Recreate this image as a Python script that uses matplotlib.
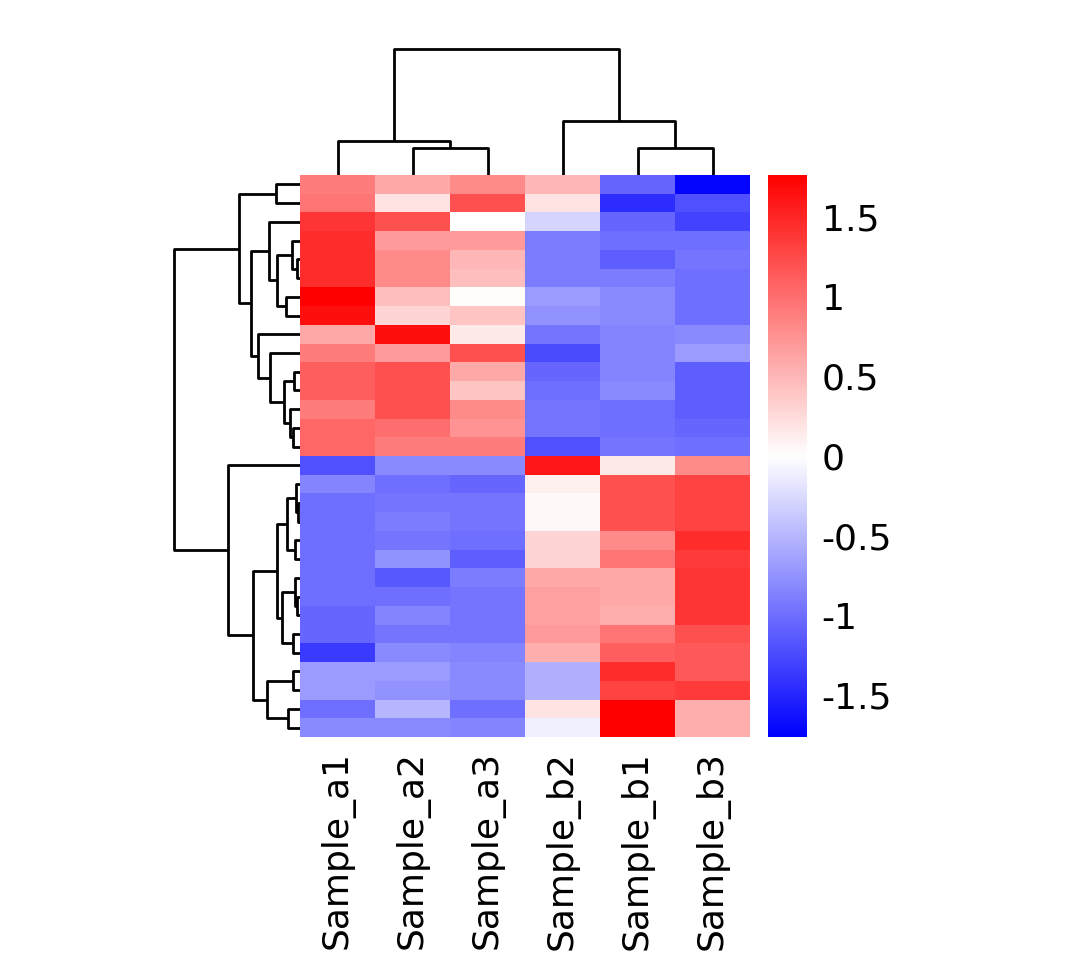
import numpy as np
import matplotlib
matplotlib.use("Agg")
import matplotlib.pyplot as plt
from matplotlib.collections import LineCollection

plt.rcParams.update({
    "font.family": "DejaVu Sans",
    "axes.unicode_minus": False,
})

# ── Datos (z-score por gen, orden original de las muestras) ─────────────────
samples = ["Sample_a1", "Sample_a2", "Sample_a3", "Sample_b1", "Sample_b2", "Sample_b3"]

sample_a1 = [0.90, 0.95, 1.40, 1.45, 1.45, 1.45, 1.75, 1.65, 0.60, 0.90,
             1.10, 1.10, 0.90, 1.05, 1.05, -1.20, -0.85, -1.00, -1.00, -1.00,
             -1.00, -1.00, -1.00, -1.05, -1.05, -1.35, -0.70, -0.70, -1.00, -0.80]
sample_a2 = [0.60, 0.20, 1.20, 0.70, 0.80, 0.80, 0.45, 0.30, 1.65, 0.70,
             1.20, 1.20, 1.20, 1.00, 0.90, -0.80, -1.00, -0.95, -0.90, -0.95,
             -0.75, -1.15, -1.00, -0.85, -0.95, -0.80, -0.70, -0.75, -0.50, -0.80]
sample_a3 = [0.80, 1.20, 0.00, 0.70, 0.50, 0.45, 0.02, 0.40, 0.15, 1.20,
             0.60, 0.40, 0.80, 0.75, 0.90, -0.80, -1.05, -0.95, -0.95, -1.00,
             -1.10, -0.90, -0.95, -0.95, -0.95, -0.85, -0.80, -0.80, -1.00, -0.85]
sample_b1 = [-1.05, -1.45, -1.05, -1.00, -1.10, -0.90, -0.80, -0.80, -0.85, -0.85,
             -0.85, -0.80, -1.00, -1.00, -0.95, 0.15, 1.20, 1.20, 1.20, 0.80,
             0.95, 0.60, 0.60, 0.55, 0.95, 1.10, 1.45, 1.30, 1.75, 1.75]
sample_b2 = [0.50, 0.20, -0.30, -0.90, -0.90, -0.90, -0.70, -0.75, -0.95, -1.25,
             -1.05, -1.00, -0.95, -0.95, -1.20, 1.60, 0.10, 0.05, 0.05, 0.30,
             0.30, 0.60, 0.65, 0.65, 0.70, 0.55, -0.55, -0.55, 0.20, -0.10]
sample_b3 = [-1.72, -1.20, -1.30, -1.00, -0.95, -1.00, -1.00, -1.00, -0.80, -0.70,
             -1.10, -1.10, -1.10, -1.05, -1.00, 0.80, 1.30, 1.30, 1.30, 1.45,
             1.35, 1.40, 1.40, 1.40, 1.20, 1.15, 1.15, 1.35, 0.55, 0.55]

# Uniones jerárquicas (hijo_1, hijo_2, altura); nodo nuevo = n + índice
col_merges = [
    (1, 2, 2.73),
    (0, 6, 3.40),
    (3, 5, 2.73),
    (4, 8, 5.40),
    (7, 9, 12.50),
]

row_merges = [
    (4, 5, 0.33),    # 30
    (3, 30, 0.80),   # 31
    (6, 7, 1.40),    # 32
    (31, 32, 2.33),  # 33
    (2, 33, 3.07),   # 34
    (10, 11, 0.57),  # 35
    (13, 14, 0.73),  # 36
    (12, 36, 1.00),  # 37
    (35, 37, 1.57),  # 38
    (9, 38, 3.00),   # 39
    (8, 39, 4.23),   # 40
    (34, 40, 4.90),  # 41
    (0, 1, 2.43),    # 42
    (42, 41, 6.10),  # 43
    (17, 18, 0.23),  # 44
    (16, 44, 0.43),  # 45
    (19, 20, 0.50),  # 46
    (45, 46, 1.33),  # 47
    (22, 23, 0.25),  # 48
    (21, 48, 0.50),  # 49
    (24, 25, 0.67),  # 50
    (49, 50, 1.77),  # 51
    (47, 51, 2.33),  # 52
    (26, 27, 0.67),  # 53
    (28, 29, 1.23),  # 54
    (53, 54, 3.33),  # 55
    (52, 55, 4.67),  # 56
    (15, 56, 7.23),  # 57
    (43, 57, 12.54), # 58
]

cbar_ticks = [-1.5, -1, -0.5, 0, 0.5, 1, 1.5]
cbar_labels = ["-1.5", "-1", "-0.5", "0", "0.5", "1", "1.5"]
vlim = 1.76


def dendrograma(merges, n):
    """Orden de hojas y segmentos en U a partir de la lista de uniones."""
    hijos = {n + k: (a, b) for k, (a, b, _) in enumerate(merges)}

    def hojas(nodo):
        if nodo < n:
            return [nodo]
        a, b = hijos[nodo]
        return hojas(a) + hojas(b)

    orden = hojas(n + len(merges) - 1)
    pos = {hoja: i + 0.5 for i, hoja in enumerate(orden)}
    alt = {hoja: 0.0 for hoja in range(n)}
    us = []
    for k, (a, b, h) in enumerate(merges):
        nodo = n + k
        pos[nodo] = (pos[a] + pos[b]) / 2
        alt[nodo] = h
        us.append([(pos[a], alt[a]), (pos[a], h), (pos[b], h), (pos[b], alt[b])])
    return orden, us


data = np.array([sample_a1, sample_a2, sample_a3,
                 sample_b1, sample_b2, sample_b3]).T
n_rows, n_cols = data.shape

row_order, row_us = dendrograma(row_merges, n_rows)
col_order, col_us = dendrograma(col_merges, n_cols)
mat = data[np.ix_(row_order, col_order)]
col_labels = [samples[i] for i in col_order]

W, H = 1080, 969
fig = plt.figure(figsize=(W / 100, H / 100), dpi=100)


def ejes(x0, y0, x1, y1):
    return fig.add_axes([x0 / W, 1 - y1 / H, (x1 - x0) / W, (y1 - y0) / H])


ax_hm = ejes(300, 175, 750, 737)
ax_row = ejes(168, 175, 300, 737)
ax_col = ejes(300, 43, 750, 175)
ax_cb = ejes(768, 175, 807, 737)

# ── Heatmap ──
mesh = ax_hm.pcolormesh(mat, cmap="bwr", vmin=-vlim, vmax=vlim,
                        edgecolors="none", rasterized=True)
ax_hm.set_xlim(0, n_cols)
ax_hm.set_ylim(n_rows, 0)
ax_hm.set_xticks(np.arange(n_cols) + 0.5)
ax_hm.set_xticklabels(col_labels, rotation=90, fontsize=26)
ax_hm.set_yticks([])
ax_hm.tick_params(axis="x", length=0, pad=10)
for s in ax_hm.spines.values():
    s.set_visible(False)

# ── Dendrograma de filas ──
segs = [[(h, p) for p, h in u] for u in row_us]
ax_row.add_collection(LineCollection(segs, colors="black", linewidths=2.0))
max_row = max(h for _, _, h in row_merges)
ax_row.set_xlim(max_row * 1.05, 0)
ax_row.set_ylim(n_rows, 0)
ax_row.axis("off")

# ── Dendrograma de columnas ──
ax_col.add_collection(LineCollection(col_us, colors="black", linewidths=2.0))
max_col = max(h for _, _, h in col_merges)
ax_col.set_xlim(0, n_cols)
ax_col.set_ylim(0, max_col * 1.05)
ax_col.axis("off")

# ── Barra de color ──
cb = fig.colorbar(mesh, cax=ax_cb)
cb.outline.set_visible(False)
cb.set_ticks(cbar_ticks)
cb.set_ticklabels(cbar_labels)
ax_cb.tick_params(length=0, pad=10.5, labelsize=26)

fig.savefig("out.png", dpi=100, facecolor="white")
plt.close(fig)
